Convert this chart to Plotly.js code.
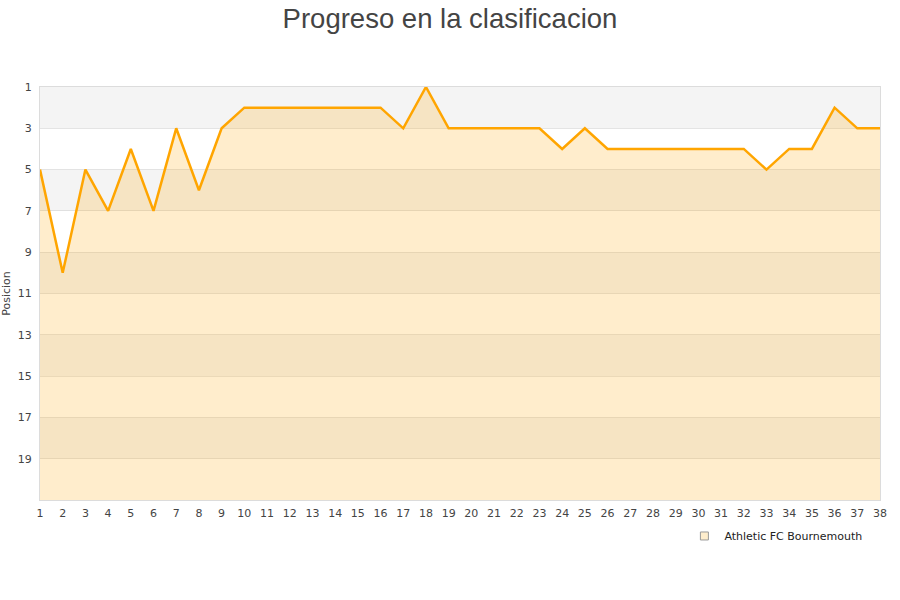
<!DOCTYPE html>
<html>
<head>
<meta charset="utf-8">
<script src="https://cdn.plot.ly/plotly-3.0.1.min.js"></script>
<style>
  html, body { margin: 0; padding: 0; background: #fff; }
  #chart { width: 900px; height: 600px; }
</style>
</head>
<body>
<div id="chart"></div>
<script>
// Jornadas y posicion en la tabla
const jornadas = [1, 2, 3, 4, 5, 6, 7, 8, 9, 10, 11, 12, 13, 14, 15, 16, 17, 18, 19,
    20, 21, 22, 23, 24, 25, 26, 27, 28, 29, 30, 31, 32, 33, 34, 35, 36, 37, 38];
const posiciones = [5, 10, 5, 7, 4, 7, 3, 6, 3, 2, 2, 2, 2, 2, 2, 2, 3, 1, 3,
    3, 3, 3, 3, 4, 3, 4, 4, 4, 4, 4, 4, 4, 5, 4, 4, 2, 3, 3];
const yTicks = [1, 3, 5, 7, 9, 11, 13, 15, 17, 19];
const equipo = 'Athletic FC Bournemouth';
const fondo = jornadas.map(() => 21);

// bandas alternas del fondo
const shapes = [];
for (let y0 = 1; y0 < 21; y0 += 4) {
    shapes.push({
        type: 'rect', layer: 'below',
        xref: 'paper', x0: 0, x1: 1,
        yref: 'y', y0: y0, y1: y0 + 2,
        fillcolor: '#f4f4f4', line: { width: 0 }
    });
}

const data = [
    {
        x: jornadas, y: fondo,
        type: 'scatter', mode: 'lines',
        line: { width: 0 },
        hoverinfo: 'skip', showlegend: false
    },
    {
        x: jornadas, y: posiciones,
        type: 'scatter', mode: 'lines',
        name: equipo,
        fill: 'tonexty',
        fillcolor: 'rgba(255,165,0,0.2)',
        line: { color: '#ffa500', width: 2.5 },
        showlegend: false
    },
    // solo para la leyenda (cuadrado)
    {
        x: [null], y: [null],
        type: 'scatter', mode: 'markers',
        name: equipo,
        marker: { symbol: 'square', size: 8, color: '#feedcc', line: { color: '#999', width: 1 } }
    }
];

const layout = {
    width: 900, height: 600,
    margin: { l: 40, r: 20, t: 87, b: 100 },
    paper_bgcolor: '#ffffff',
    plot_bgcolor: '#ffffff',
    font: { family: 'DejaVu Sans, sans-serif', size: 11, color: '#444' },
    title: {
        text: 'Progreso en la clasificacion',
        font: { family: 'Liberation Sans, Arial, sans-serif', size: 27.5, color: '#444' },
        x: 0.5, xanchor: 'center',
        y: 0.985, yanchor: 'top'
    },
    xaxis: {
        range: [1, 38],
        tickvals: jornadas,
        ticks: 'outside', ticklen: 3, tickcolor: 'rgba(0,0,0,0)',
        showgrid: false, zeroline: false,
        showline: true, linecolor: '#dcdcdc', mirror: true,
        tickfont: { size: 11, color: '#444' }
    },
    yaxis: {
        range: [21, 1],
        tickvals: yTicks,
        ticks: 'outside', ticklen: 5, tickcolor: 'rgba(0,0,0,0)',
        showgrid: true, gridcolor: 'rgba(200,200,200,0.45)',
        zeroline: false,
        showline: true, linecolor: '#dcdcdc', mirror: true,
        tickfont: { size: 11, color: '#444' },
        title: { text: 'Posicion', font: { size: 11, color: '#444' }, standoff: 8 }
    },
    shapes: shapes,
    showlegend: true,
    legend: {
        x: 0.985, xanchor: 'right',
        y: -0.052, yanchor: 'top',
        font: { size: 11, color: '#222' },
        bgcolor: 'rgba(0,0,0,0)',
        itemwidth: 30
    }
};

Plotly.newPlot('chart', data, layout, { displayModeBar: false, staticPlot: true });
</script>
</body>
</html>
